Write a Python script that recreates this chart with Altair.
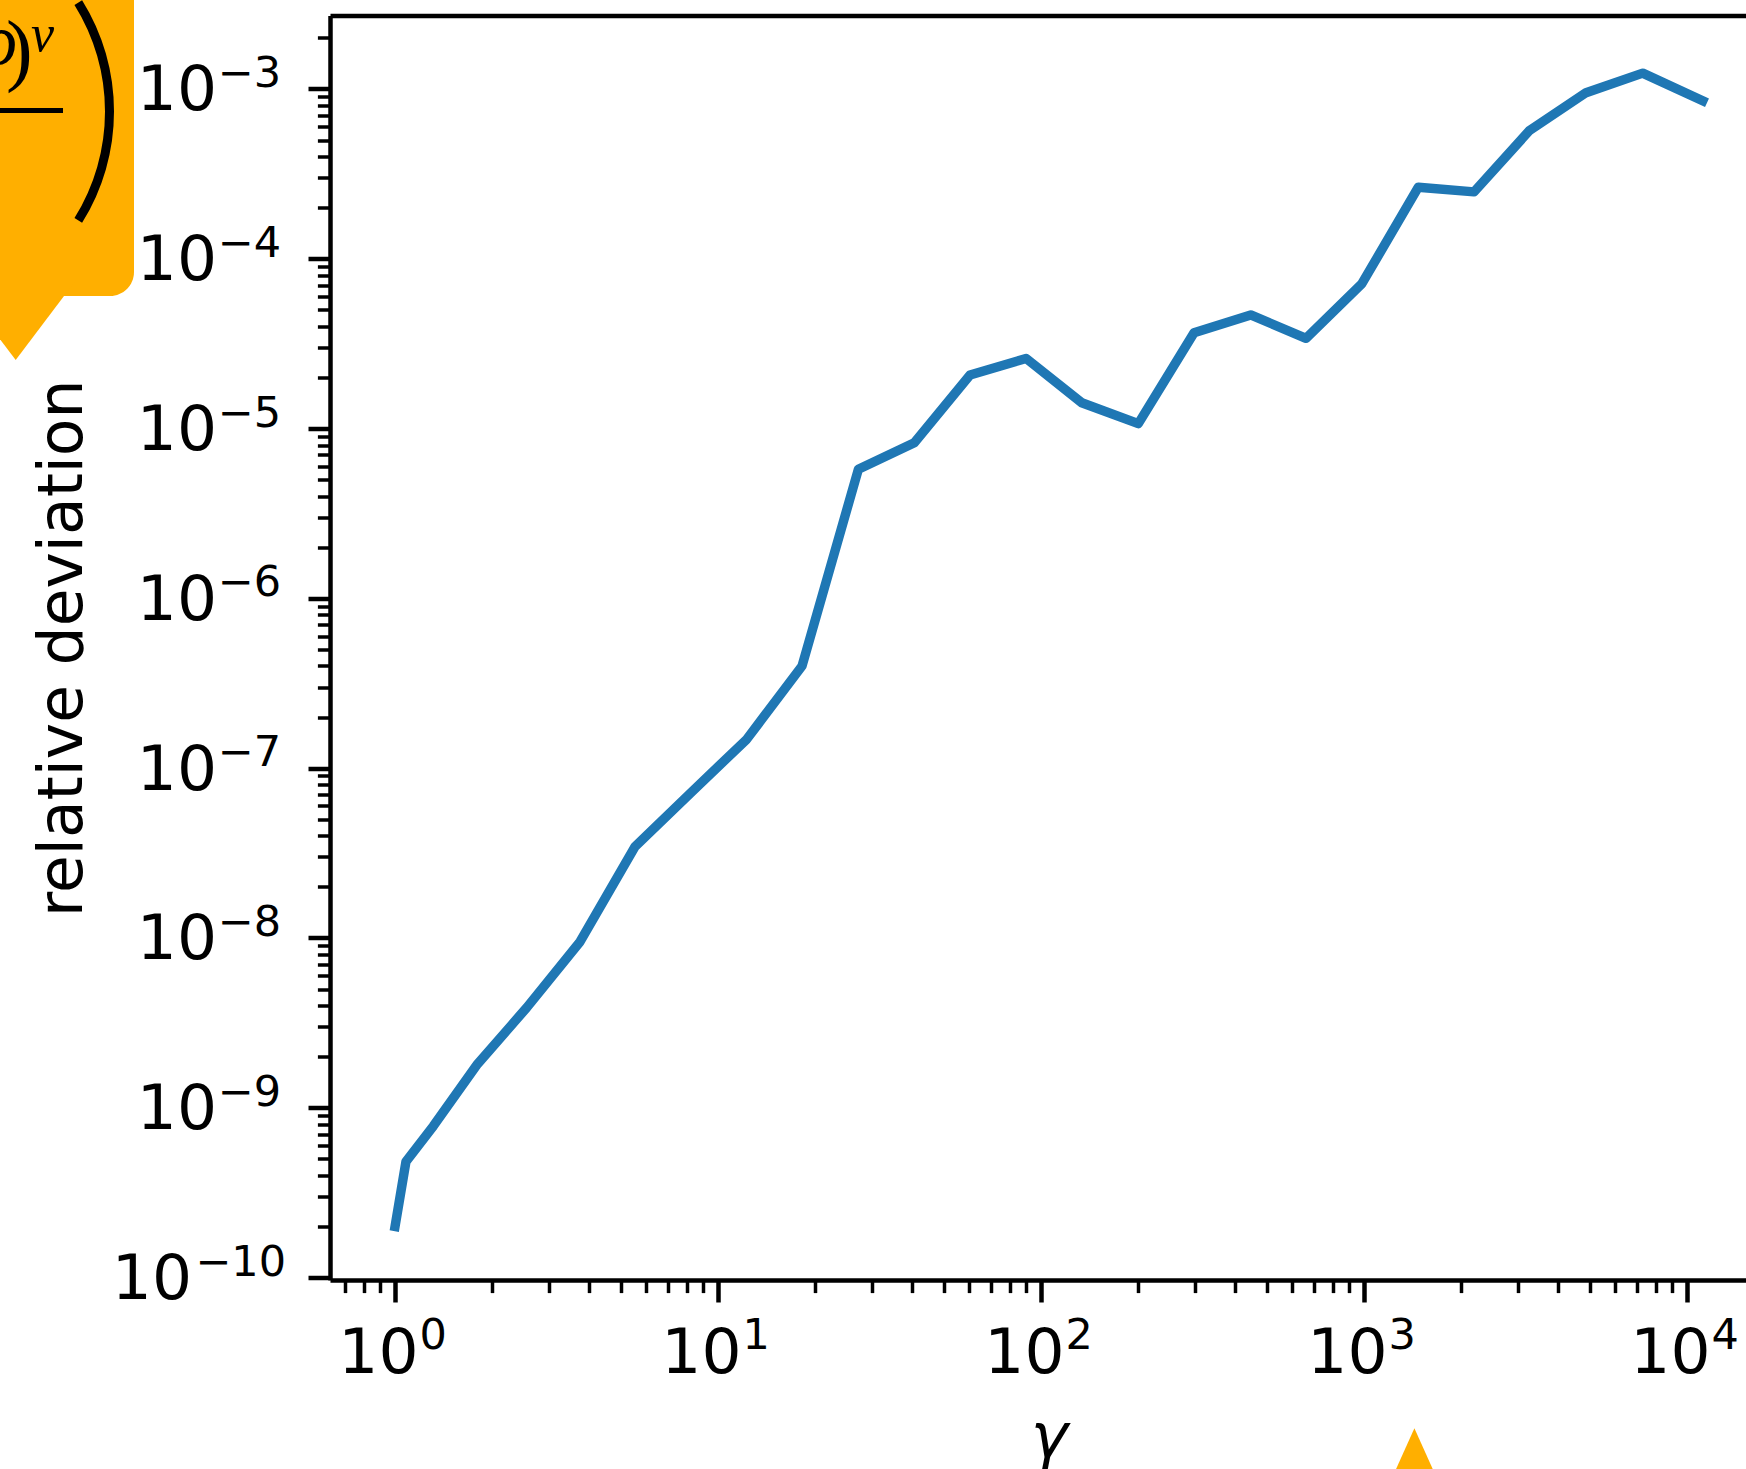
import altair as alt
import pandas as pd

# Relative deviation of the approximation as a function of the Lorentz factor
gamma = [1.0, 1.081, 1.314, 1.800, 2.557, 3.740, 5.534, 8.219, 12.27, 18.20,
         27.20, 40.53, 60.29, 89.87, 133.7, 200.1, 297.7, 445.9, 661.3, 983.9,
         1473, 2191, 3250, 4868, 7292, 11187]
deviation = [2.00e-10, 4.82e-10, 7.81e-10, 1.81e-9, 3.89e-9, 9.51e-9, 3.45e-8,
             7.14e-8, 1.48e-7, 4.00e-7, 5.76e-6, 8.26e-6, 2.07e-5, 2.59e-5,
             1.42e-5, 1.07e-5, 3.67e-5, 4.67e-5, 3.40e-5, 7.11e-5, 2.64e-4,
             2.48e-4, 5.68e-4, 9.51e-4, 1.24e-3, 8.53e-4]

# decade tick labels, written as 10 with a raised exponent
x_major = [1, 10, 100, 1000, 10000]
x_major_exp = ["0", "1", "2", "3", "4"]
y_major = [1e-3, 1e-4, 1e-5, 1e-6, 1e-7, 1e-8, 1e-9, 1e-10]
y_major_exp = ["\u22123", "\u22124", "\u22125", "\u22126", "\u22127",
               "\u22128", "\u22129", "\u221210"]

X_DOMAIN = [0.629, 15228]
Y_DOMAIN = [9.68e-11, 2.709e-3]

W, H = 1416, 1264.5
FONT = "DejaVu Sans"
SERIF = "Liberation Serif"
BASE_SIZE = 63
SUP_SIZE = 43
BLUE = "#1f77b4"
ORANGE = "#FFAF00"

x_minor = [m * 10.0 ** k for k in range(-1, 5) for m in range(2, 10)
           if X_DOMAIN[0] <= m * 10.0 ** k <= X_DOMAIN[1]]
y_minor = [m * 10.0 ** k for k in range(-11, -2) for m in range(2, 10)
           if Y_DOMAIN[0] <= m * 10.0 ** k <= Y_DOMAIN[1]]

curve = pd.DataFrame({"gamma": gamma, "dev": deviation})
xt = pd.DataFrame({"v": x_major, "e": x_major_exp})
yt = pd.DataFrame({"v": y_major, "e": y_major_exp})
one = pd.DataFrame({"k": [0]})

xs = alt.Scale(type="log", domain=X_DOMAIN, nice=False)
ys = alt.Scale(type="log", domain=Y_DOMAIN, nice=False)

tick_style = dict(tickColor="black", domainColor="black", grid=False, labels=False)

line = alt.Chart(curve).mark_line(
    color=BLUE, strokeWidth=9.4, strokeCap="square", strokeJoin="round"
).encode(
    x=alt.X("gamma:Q", scale=xs, axis=alt.Axis(
        orient="bottom", values=x_major, tickSize=22, tickWidth=4.5,
        domainWidth=4.5, title="\u03b3", titleFont=FONT,
        titleFontSize=BASE_SIZE, titleFontStyle="italic",
        titleFontWeight="normal", titleColor="black", titleX=719,
        titleY=176.5, titleBaseline="alphabetic", titleAlign="center",
        **tick_style)),
    y=alt.Y("dev:Q", scale=ys, axis=alt.Axis(
        orient="left", values=y_major, tickSize=22, tickWidth=4.5,
        domainWidth=4.5, title="relative deviation", titleFont=FONT,
        titleFontSize=61.5, titleFontWeight="normal", titleColor="black",
        titleAngle=270, titleX=-249, titleY=H / 2,
        titleBaseline="alphabetic", titleAlign="center", **tick_style)),
)

# x tick labels (minor ticks ride on this layer's axis)
x_base = alt.Chart(xt).mark_text(
    font=FONT, fontSize=BASE_SIZE, align="right", baseline="alphabetic",
    dx=23.5, color="black"
).encode(
    x=alt.X("v:Q", scale=xs, axis=alt.Axis(
        orient="bottom", values=x_minor, tickSize=12.6, tickWidth=3.5,
        domain=False, title=None, **tick_style)),
    y=alt.value(H + 93),
    text=alt.value("10"),
)
# exponents; this layer's axis is the top spine
x_exp = alt.Chart(xt).mark_text(
    font=FONT, fontSize=SUP_SIZE, align="left", baseline="alphabetic",
    dx=24.5, color="black"
).encode(
    x=alt.X("v:Q", scale=xs, axis=alt.Axis(
        orient="top", ticks=False, domainWidth=4.5, title=None, **tick_style)),
    y=alt.value(H + 69),
    text="e:N",
)

short = "length(datum.e) <= 2"
long_ = "length(datum.e) > 2"

y_base_1 = alt.Chart(yt).transform_filter(short).mark_text(
    font=FONT, fontSize=BASE_SIZE, align="right", baseline="alphabetic",
    dy=21.5, color="black"
).encode(
    x=alt.value(-113),
    y=alt.Y("v:Q", scale=ys, axis=alt.Axis(
        orient="left", values=y_minor, tickSize=12.6, tickWidth=3.5,
        domain=False, title=None, **tick_style)),
    text=alt.value("10"),
)
y_base_2 = alt.Chart(yt).transform_filter(long_).mark_text(
    font=FONT, fontSize=BASE_SIZE, align="right", baseline="alphabetic",
    dy=21.5, color="black"
).encode(
    x=alt.value(-138),
    y=alt.Y("v:Q", scale=ys, axis=None),
    text=alt.value("10"),
)
y_exp_1 = alt.Chart(yt).transform_filter(short).mark_text(
    font=FONT, fontSize=SUP_SIZE, align="right", baseline="alphabetic",
    dy=-2, color="black"
).encode(
    x=alt.value(-49),
    y=alt.Y("v:Q", scale=ys, axis=None),
    text="e:N",
)
y_exp_2 = alt.Chart(yt).transform_filter(long_).mark_text(
    font=FONT, fontSize=SUP_SIZE, align="right", baseline="alphabetic",
    dy=-2, color="black"
).encode(
    x=alt.value(-44),
    y=alt.Y("v:Q", scale=ys, axis=None),
    text="e:N",
)

# orange formula callout in the upper-left corner and a pointer tip below
callout = alt.Chart(one).mark_rect(color=ORANGE, cornerRadius=24).encode(
    x=alt.value(-360), x2=alt.value(-196), y=alt.value(-45.5), y2=alt.value(280.5))
callout_tip = alt.Chart(one).mark_point(
    shape="M -1.51 -1 L 1.51 -1 L 0 1 Z", size=6400, filled=True,
    color=ORANGE, opacity=1, strokeWidth=0
).encode(x=alt.value(-314.3), y=alt.value(304.5))
frac_bar = alt.Chart(one).mark_rect(color="black").encode(
    x=alt.value(-340), x2=alt.value(-267), y=alt.value(92.5), y2=alt.value(97.5))
big_paren = alt.Chart(one).mark_arc(color="black").encode(
    x=alt.value(-426), y=alt.value(96),
    theta=alt.value(1.0123), theta2=alt.value(2.1293),
    radius=alt.value(210), radius2=alt.value(201))
rho = alt.Chart(one).mark_text(
    font=SERIF, fontSize=72, fontStyle="italic", align="right",
    baseline="alphabetic", color="black"
).encode(x=alt.value(-313), y=alt.value(48), text=alt.value("\u03c1"))
paren = alt.Chart(one).mark_text(
    font=SERIF, fontSize=80, align="left", baseline="alphabetic", color="black"
).encode(x=alt.value(-324), y=alt.value(60), text=alt.value(")"))
nu = alt.Chart(one).mark_text(
    font=SERIF, fontSize=52, fontStyle="italic", align="left",
    baseline="alphabetic", color="black"
).encode(x=alt.value(-299), y=alt.value(35), text=alt.value("\u03bd"))
lower_tip = alt.Chart(one).mark_point(
    shape="M 0 -1 L 0.9 1 L -0.9 1 Z", size=3600, filled=True,
    color=ORANGE, opacity=1, strokeWidth=0
).encode(x=alt.value(1084.4), y=alt.value(1442.8))

chart = alt.layer(
    line, x_base, x_exp, y_base_1, y_base_2, y_exp_1, y_exp_2,
    callout, callout_tip, frac_bar, big_paren, rho, paren, nu, lower_tip,
).resolve_axis(
    x="independent", y="independent"
).properties(
    width=W, height=H,
    autosize=alt.AutoSizeParams(type="none"),
    padding={"left": 330, "top": 15.5, "right": 0, "bottom": 189},
    background="white",
).configure_view(stroke="transparent")

chart.save("out.html", embed_options={"renderer": "svg", "actions": False})
